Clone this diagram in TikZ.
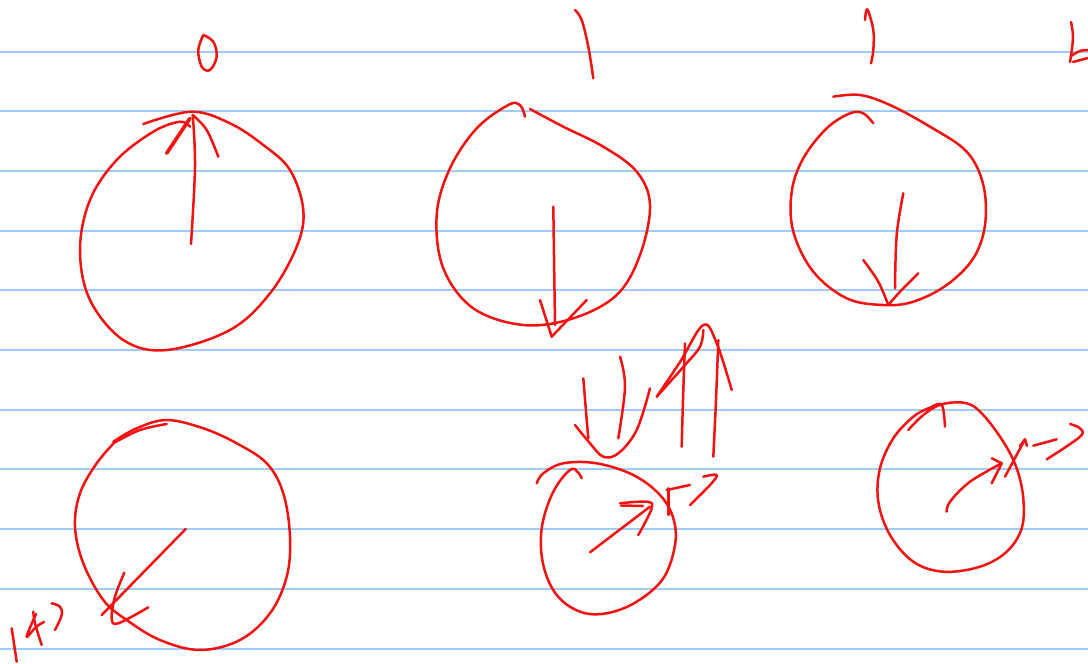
\documentclass[tikz,border=0pt]{standalone}
\usetikzlibrary{backgrounds}
\definecolor{ink}{HTML}{F21212}
\definecolor{ruleblue}{HTML}{9FCBF7}
\tikzset{
  ruling/.style={draw=ruleblue, line width=2pt},
  pen/.style={draw=ink, line width=2.5pt, line cap=round, line join=round},
  loop/.style={pen, smooth, tension=0.6},
  thickpen/.style={pen, line width=3.6pt}
}
\begin{document}
\begin{tikzpicture}[x=1pt, y=-1pt]
  \useasboundingbox[fill=white] (0,0) rectangle (1088,664);

  % lined paper
  \foreach \k in {0,...,10}
    \draw[ruling] (0,{51.5+59.7*\k}) -- (1088,{51.5+59.7*\k});

  % marks above the top row
  \draw[loop] plot coordinates {(203.3,35) (198.3,50) (201.7,66.7) (210,70) (216.7,56.7) (213.3,41.7) (203.3,35)};
  \draw[loop] plot coordinates {(575,10) (581.7,20) (588.3,46.7) (593.3,78.3)};
  \draw[loop] plot coordinates {(865,20) (867.3,9.3) (873.3,30) (873.3,50) (871,63.3)};
  \draw[loop] plot coordinates {(1071,22) (1073,38) (1070,62)};
  \draw[loop] plot coordinates {(1071,56) (1080,51) (1088,50)};
  \draw[pen] (1073,62) -- (1088,58);

  % circle 0, arrow up
  \draw[loop] plot coordinates {(143.3,124) (191.7,111.7) (230,123.3) (263.3,145) (290,170) (303.3,210) (296.7,246.7) (270,293.3) (230,330) (166.7,350) (123.3,340) (90,300) (80,250) (90,200) (116.7,160) (153.3,131.7) (180,121.7) (190,126.7)};
  \draw[loop] plot coordinates {(191,244) (195,166.7) (192.7,115)};
  \draw[thickpen] (166.7,153.3) -- (190,118.3);
  \draw[loop] plot coordinates {(192.7,115) (206.7,130) (218.3,156.7)};

  % circle 1, arrow down
  \draw[loop] plot coordinates {(525,116.7) (520,105) (508.3,105) (476.7,128.3) (450,168.3) (436.7,215) (443.3,268.3) (473.3,308.3) (523.3,325) (573.3,318.3) (616.7,295) (640,255) (650,205) (636.7,171.7) (603.3,146.7) (563.3,126.7) (530,109)};
  \draw[pen] (553.3,206.7) -- (555,325);
  \draw[pen] (540,300) -- (551.7,336.7) -- (586.7,300);

  % circle 2, arrow down
  \draw[loop] plot coordinates {(833.3,96.7) (860,95) (890,105) (930,126.7) (966.7,151.7) (983.3,185) (985,225) (973.3,258.3) (946.7,285) (913.3,301.7) (883.3,305) (846.7,298.3) (813.3,271.7) (793.3,231.7) (791.7,191.7) (803.3,158.3) (826.7,128.3) (850,113.3) (863.3,113.3) (873.3,123.3)};
  \draw[loop] plot coordinates {(903.3,193.3) (896.7,235) (895,288.3)};
  \draw[loop] plot coordinates {(863.3,260) (878.3,281.7) (888.3,305)};
  \draw[loop] plot coordinates {(888.3,305) (900,291.7) (918.3,273.3)};

  % circle 3, arrow down-left
  \draw[loop] plot coordinates {(113.3,441.7) (136.7,428.3) (166.7,420) (203.3,428.3) (236.7,443.3) (266.7,463.3) (283.3,493.3) (290,536.7) (286.7,576.7) (270,613.3) (240,640) (200,650) (160,640) (126.7,620) (103.3,600) (83.3,563.3) (75,526.7) (80,493.3) (96.7,463.3) (116.7,440)};
  \draw[loop] plot coordinates {(115,442.3) (140,430) (166.7,424)};
  \draw[pen] (185.7,529) -- (101.7,615);
  \draw[loop] plot coordinates {(124.3,572.7) (115,596.7) (111.7,618.3) (118.3,623.3) (148.3,607.3)};
  \draw[pen] (11.7,628.3) -- (16.7,661.7);
  \draw[loop] plot coordinates {(33.3,611.7) (35,623.3) (41.7,645)};
  \draw[loop] plot coordinates {(36,614) (29,630) (27,637) (36,627) (44,622)};
  \draw[loop] plot coordinates {(51.7,603.3) (60,606.7) (61.7,615) (55,630)};

  % double arrows down and up
  \draw[loop] plot coordinates {(583.3,378.3) (586.7,420) (588.3,438.3)};
  \draw[loop] plot coordinates {(575,425) (590,443.3) (603.3,456.7) (618.3,453.3) (636.7,430) (650,388.3)};
  \draw[loop] plot coordinates {(620,356.7) (625,386.7) (618.3,438.3)};
  \draw[loop] plot coordinates {(685,343.3) (683,400) (681.7,446.7)};
  \draw[loop] plot coordinates {(718.3,340) (716,400) (713.3,456.7)};
  \draw[loop] plot coordinates {(656.7,396.7) (680,362) (703.3,325) (716.7,343.3) (731.7,390)};
  \draw[loop] plot coordinates {(656.7,396.7) (685,365) (700,346.7) (703.3,330)};

  % circle 4, arrow up-right
  \draw[loop] plot coordinates {(581.7,478.3) (571.7,469) (553.3,491.7) (541.7,528.3) (543.3,565) (556.7,595) (580,611.7) (606.7,613.3) (636.7,601.7) (663.3,578.3) (675,545) (673.3,518.3) (660,495) (633.3,475) (596.7,463.3) (563.3,463.3) (543.3,473.3) (536.7,483.3)};
  \draw[pen] (590,552.3) -- (650,506.7);
  \draw[loop] plot coordinates {(620,503.3) (646.7,501.7) (651.7,508.3) (638.3,535)};
  \draw[pen] (621,505.5) -- (643,506);
  \draw[pen] (668.3,488.3) -- (668.3,515);
  \draw[pen] (666.7,490) -- (690,485);
  \draw[loop] plot coordinates {(703.3,476.7) (716.7,475) (710,485) (690,505)};

  % circle 5, arrow up-right
  \draw[loop] plot coordinates {(908.3,430) (923.3,415) (941.7,404.3) (966.7,403.3) (983.3,415) (1003.3,441.7) (1016.7,468.3) (1023.3,498.3) (1021.7,528.3) (1006.7,551.7) (980,566.7) (943.3,571.7) (913.3,561.7) (890,535) (878.3,501.7) (880,468.3) (893.3,438.3) (913.3,416.7) (930,407.7) (941.7,405) (945,426.7)};
  \draw[loop] plot coordinates {(946.7,511.7) (950,501.7) (970,481.7) (1001.7,463.3)};
  \draw[pen] (991.7,458.3) -- (1001.7,463.3) -- (991.7,483.3);
  \draw[pen] (1005,476.7) -- (1025,439.3);
  \draw[pen] (1020,446) -- (1025,439.3) -- (1027,446);
  \draw[pen] (1033.3,445.7) -- (1056.7,439.3);
  \draw[loop] plot coordinates {(1070,424) (1080,428.3) (1080,436.7) (1046.7,459.3)};
\end{tikzpicture}
\end{document}
